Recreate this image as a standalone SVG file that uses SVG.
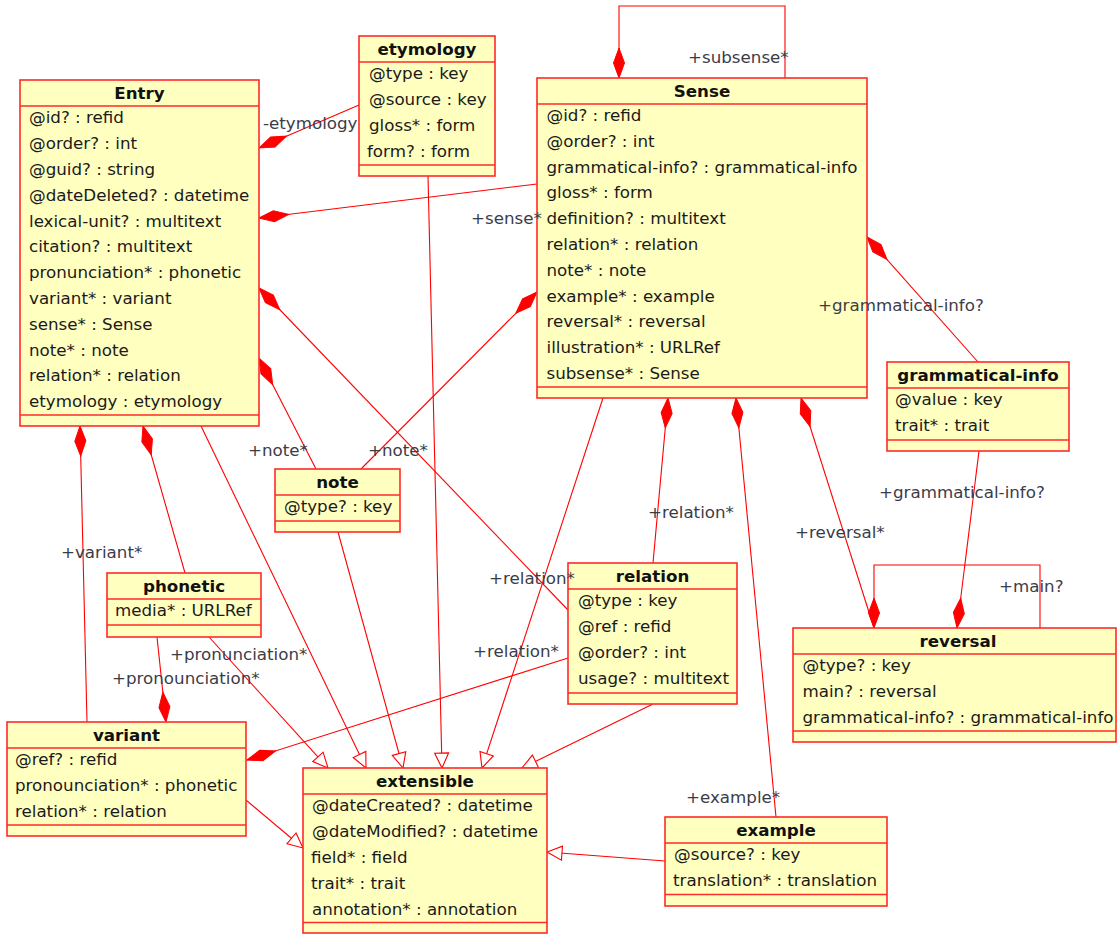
<svg xmlns="http://www.w3.org/2000/svg" width="1117" height="935" viewBox="0 0 1117 935">
  <style>
    .box { fill: #ffffc0; stroke: #ff2a2a; stroke-width: 1.6; }
    .sep { stroke: #ff2a2a; stroke-width: 1.6; }
    .title { font-family: "DejaVu Sans", sans-serif; font-size: 16.7px; font-weight: bold; fill: #111; text-anchor: middle; }
    .attr { font-family: "DejaVu Sans", sans-serif; font-size: 16.7px; fill: #1a1a1a; }
    .lbl { font-family: "DejaVu Sans", sans-serif; font-size: 16.7px; fill: #3c3c48; }
    .edge { fill: none; stroke: #ff0000; stroke-width: 1.1; }
    .comp { marker-start: url(#diamond); }
    .gen { marker-end: url(#hollow); }
  </style>
  <defs>
    <!-- filled diamond: composition, drawn at the owning class -->
    <marker id="diamond" viewBox="-1 -7 33 14" refX="0" refY="0" markerWidth="33" markerHeight="14" markerUnits="userSpaceOnUse" orient="auto">
      <path d="M0,0 L15,-5.5 L30,0 L15,5.5 Z" fill="#ff0000" stroke="#ff0000" stroke-width="1"/>
    </marker>
    <!-- hollow triangle: generalisation to extensible -->
    <marker id="hollow" viewBox="-17 -9 19 18" refX="0" refY="0" markerWidth="19" markerHeight="18" markerUnits="userSpaceOnUse" orient="auto">
      <path d="M0,0 L-15,-7 L-15,7 Z" fill="#ffffff" stroke="#ff0000" stroke-width="1.1"/>
    </marker>
  </defs>

  <g id="connectors">
    <!-- compositions -->
    <line class="edge comp" x1="259" y1="148" x2="359" y2="105"/>
    <line class="edge comp" x1="259" y1="218" x2="537" y2="184"/>
    <line class="edge comp" x1="259" y1="288" x2="568" y2="610"/>
    <line class="edge comp" x1="259" y1="358" x2="316" y2="469"/>
    <line class="edge comp" x1="537" y1="292" x2="361" y2="469"/>
    <line class="edge comp" x1="80" y1="426" x2="87" y2="722"/>
    <line class="edge comp" x1="143" y1="426" x2="185" y2="573"/>
    <line class="edge comp" x1="247" y1="760" x2="568" y2="658"/>
    <line class="edge comp" x1="166" y1="722" x2="157" y2="637"/>
    <line class="edge comp" x1="668" y1="398" x2="653" y2="563"/>
    <line class="edge comp" x1="736" y1="398" x2="776" y2="817"/>
    <line class="edge comp" x1="801" y1="398" x2="874" y2="628"/>
    <line class="edge comp" x1="867" y1="237" x2="978" y2="362"/>
    <line class="edge comp" x1="957" y1="628" x2="979" y2="451"/>
    <polyline class="edge comp" points="619,78 619,6 785,6 785,78"/>
    <polyline class="edge comp" points="874,628 874,565 1040,565 1040,628"/>

    <!-- generalisations -->
    <line class="edge gen" x1="201" y1="426" x2="366" y2="768"/>
    <line class="edge gen" x1="428" y1="176" x2="442" y2="768"/>
    <line class="edge gen" x1="338" y1="532" x2="403" y2="768"/>
    <line class="edge gen" x1="209" y1="637" x2="328" y2="768"/>
    <line class="edge gen" x1="603" y1="398" x2="482" y2="768"/>
    <line class="edge gen" x1="653" y1="704" x2="522" y2="768"/>
    <line class="edge gen" x1="246" y1="800" x2="303" y2="848"/>
    <line class="edge gen" x1="665" y1="861" x2="547" y2="852"/>
  </g>

  <g id="entry">
    <rect class="box" x="20" y="80" width="239" height="346"/>
    <line class="sep" x1="20" y1="106" x2="259" y2="106"/>
    <line class="sep" x1="20" y1="415" x2="259" y2="415"/>
    <text class="title" x="139.5" y="99">Entry</text>
    <text class="attr" x="29" y="123.3">@id? : refid</text>
    <text class="attr" x="29" y="149.1">@order? : int</text>
    <text class="attr" x="29" y="174.9">@guid? : string</text>
    <text class="attr" x="29" y="200.7">@dateDeleted? : datetime</text>
    <text class="attr" x="29" y="226.5">lexical-unit? : multitext</text>
    <text class="attr" x="29" y="252.3">citation? : multitext</text>
    <text class="attr" x="29" y="278.1">pronunciation* : phonetic</text>
    <text class="attr" x="29" y="303.9">variant* : variant</text>
    <text class="attr" x="29" y="329.7">sense* : Sense</text>
    <text class="attr" x="29" y="355.5">note* : note</text>
    <text class="attr" x="29" y="381.3">relation* : relation</text>
    <text class="attr" x="29" y="407.1">etymology : etymology</text>
  </g>

  <g id="etymology">
    <rect class="box" x="359" y="36" width="136" height="140"/>
    <line class="sep" x1="359" y1="62" x2="495" y2="62"/>
    <line class="sep" x1="359" y1="165" x2="495" y2="165"/>
    <text class="title" x="427" y="55">etymology</text>
    <text class="attr" x="369" y="79.3">@type : key</text>
    <text class="attr" x="369" y="105.1">@source : key</text>
    <text class="attr" x="369" y="130.9">gloss* : form</text>
    <text class="attr" x="367" y="156.7">form? : form</text>
  </g>

  <g id="sense">
    <rect class="box" x="537" y="78" width="330" height="320"/>
    <line class="sep" x1="537" y1="104" x2="867" y2="104"/>
    <line class="sep" x1="537" y1="387" x2="867" y2="387"/>
    <text class="title" x="702" y="97">Sense</text>
    <text class="attr" x="546.5" y="121">@id? : refid</text>
    <text class="attr" x="546.5" y="146.8">@order? : int</text>
    <text class="attr" x="546.5" y="172.6">grammatical-info? : grammatical-info</text>
    <text class="attr" x="546.5" y="198.4">gloss* : form</text>
    <text class="attr" x="546.5" y="224.2">definition? : multitext</text>
    <text class="attr" x="546.5" y="250">relation* : relation</text>
    <text class="attr" x="546.5" y="275.8">note* : note</text>
    <text class="attr" x="546.5" y="301.6">example* : example</text>
    <text class="attr" x="546.5" y="327.4">reversal* : reversal</text>
    <text class="attr" x="546.5" y="353.2">illustration* : URLRef</text>
    <text class="attr" x="546.5" y="379">subsense* : Sense</text>
  </g>

  <g id="grammatical-info">
    <rect class="box" x="887" y="362" width="182" height="89"/>
    <line class="sep" x1="887" y1="388" x2="1069" y2="388"/>
    <line class="sep" x1="887" y1="440" x2="1069" y2="440"/>
    <text class="title" x="978" y="381">grammatical-info</text>
    <text class="attr" x="895" y="405.3">@value : key</text>
    <text class="attr" x="895" y="431.1">trait* : trait</text>
  </g>

  <g id="note">
    <rect class="box" x="275" y="469" width="125" height="63"/>
    <line class="sep" x1="275" y1="495" x2="400" y2="495"/>
    <line class="sep" x1="275" y1="521" x2="400" y2="521"/>
    <text class="title" x="337.5" y="488">note</text>
    <text class="attr" x="284" y="512.3">@type? : key</text>
  </g>

  <g id="phonetic">
    <rect class="box" x="107" y="573" width="154" height="64"/>
    <line class="sep" x1="107" y1="599" x2="261" y2="599"/>
    <line class="sep" x1="107" y1="625" x2="261" y2="625"/>
    <text class="title" x="184" y="592">phonetic</text>
    <text class="attr" x="115" y="616.3">media* : URLRef</text>
  </g>

  <g id="relation">
    <rect class="box" x="568" y="563" width="169" height="141"/>
    <line class="sep" x1="568" y1="589" x2="737" y2="589"/>
    <line class="sep" x1="568" y1="693" x2="737" y2="693"/>
    <text class="title" x="652.5" y="582">relation</text>
    <text class="attr" x="578" y="606.3">@type : key</text>
    <text class="attr" x="578" y="632.1">@ref : refid</text>
    <text class="attr" x="578" y="657.9">@order? : int</text>
    <text class="attr" x="578" y="683.7">usage? : multitext</text>
  </g>

  <g id="reversal">
    <rect class="box" x="793" y="628" width="323" height="114"/>
    <line class="sep" x1="793" y1="654" x2="1116" y2="654"/>
    <line class="sep" x1="793" y1="731" x2="1116" y2="731"/>
    <text class="title" x="958" y="647">reversal</text>
    <text class="attr" x="802.5" y="671.3">@type? : key</text>
    <text class="attr" x="802.5" y="697.1">main? : reversal</text>
    <text class="attr" x="802.5" y="722.9">grammatical-info? : grammatical-info</text>
  </g>

  <g id="variant">
    <rect class="box" x="7" y="722" width="239" height="114"/>
    <line class="sep" x1="7" y1="748" x2="246" y2="748"/>
    <line class="sep" x1="7" y1="825" x2="246" y2="825"/>
    <text class="title" x="126.5" y="741">variant</text>
    <text class="attr" x="15" y="765.3">@ref? : refid</text>
    <text class="attr" x="15" y="791.1">pronounciation* : phonetic</text>
    <text class="attr" x="15" y="816.9">relation* : relation</text>
  </g>

  <g id="extensible">
    <rect class="box" x="303" y="768" width="244" height="165"/>
    <line class="sep" x1="303" y1="794" x2="547" y2="794"/>
    <line class="sep" x1="303" y1="922.5" x2="547" y2="922.5"/>
    <text class="title" x="425" y="787">extensible</text>
    <text class="attr" x="312" y="811.3">@dateCreated? : datetime</text>
    <text class="attr" x="312" y="837.1">@dateModified? : datetime</text>
    <text class="attr" x="311" y="862.9">field* : field</text>
    <text class="attr" x="311" y="888.7">trait* : trait</text>
    <text class="attr" x="312" y="914.5">annotation* : annotation</text>
  </g>

  <g id="example">
    <rect class="box" x="665" y="817" width="222" height="89"/>
    <line class="sep" x1="665" y1="843" x2="887" y2="843"/>
    <line class="sep" x1="665" y1="894.5" x2="887" y2="894.5"/>
    <text class="title" x="776" y="836">example</text>
    <text class="attr" x="674" y="860.3">@source? : key</text>
    <text class="attr" x="673" y="886.1">translation* : translation</text>
  </g>

  <!-- role names, drawn last so they stay readable over the classes -->
  <g id="role-names">
    <text class="lbl" x="263" y="129">-etymology</text>
    <text class="lbl" x="471" y="224">+sense*</text>
    <text class="lbl" x="248" y="456">+note*</text>
    <text class="lbl" x="368" y="456">+note*</text>
    <text class="lbl" x="61" y="558">+variant*</text>
    <text class="lbl" x="489" y="584">+relation*</text>
    <text class="lbl" x="473" y="657">+relation*</text>
    <text class="lbl" x="170" y="660">+pronunciation*</text>
    <text class="lbl" x="112" y="684">+pronounciation*</text>
    <text class="lbl" x="648" y="518">+relation*</text>
    <text class="lbl" x="795" y="538">+reversal*</text>
    <text class="lbl" x="686" y="803">+example*</text>
    <text class="lbl" x="818" y="311">+grammatical-info?</text>
    <text class="lbl" x="879" y="498">+grammatical-info?</text>
    <text class="lbl" x="688" y="63">+subsense*</text>
    <text class="lbl" x="999" y="592">+main?</text>
  </g>
</svg>
